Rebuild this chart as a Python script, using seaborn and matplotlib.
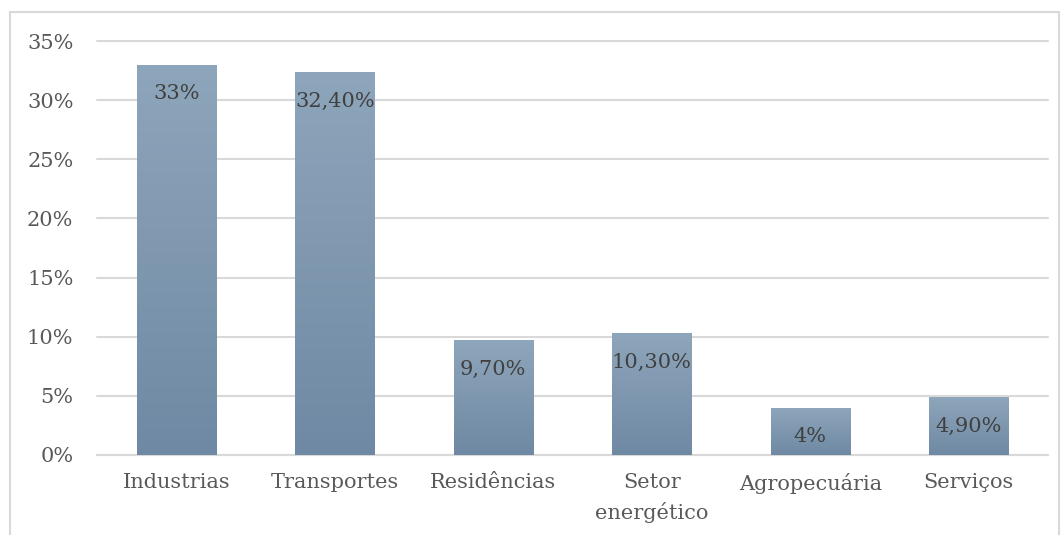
import numpy as np
import pandas as pd
import matplotlib
matplotlib.use("Agg")
import matplotlib.pyplot as plt
from matplotlib.patches import Rectangle
from matplotlib.colors import LinearSegmentedColormap
import seaborn as sns

# DATA
setores = ["Industrias", "Transportes", "Residências", "Setor\nenergético", "Agropecuária", "Serviços"]
valores = [33.0, 32.4, 9.7, 10.3, 4.0, 4.9]
rotulos = ["33%", "32,40%", "9,70%", "10,30%", "4%", "4,90%"]
yticks = [0, 5, 10, 15, 20, 25, 30, 35]
ytick_labels = ["0%", "5%", "10%", "15%", "20%", "25%", "30%", "35%"]

df = pd.DataFrame({"setor": setores, "valor": valores})

sns.set_style("white")
plt.rcParams["font.family"] = ["DejaVu Serif"]

fig = plt.figure(figsize=(10.62, 5.35), dpi=100)
ax = fig.add_axes([97 / 1062, 1 - 455 / 535, (1048 - 97) / 1062, (455 - 41) / 535])

sns.barplot(data=df, x="setor", y="valor", color="#7f97ae", width=0.5, ax=ax, zorder=3)

# gradient fill clipped to each bar
cmap = LinearSegmentedColormap.from_list("grad", ["#6f89a4", "#8ea6bb"])
grad = np.linspace(0, 1, 256).reshape(-1, 1)
for bar in ax.patches:
    x0, w, h = bar.get_x(), bar.get_width(), bar.get_height()
    bar.set_edgecolor("#c9d3dc")
    bar.set_linewidth(0.6)
    im = ax.imshow(grad, cmap=cmap, aspect="auto", origin="lower",
                   extent=[x0, x0 + w, 0, h], zorder=3.5)
    im.set_clip_path(bar)

for i, (v, t) in enumerate(zip(valores, rotulos)):
    ax.annotate(t, (i, v), xytext=(0, -21), textcoords="offset points",
                ha="center", va="center", fontsize=15, color="#404040", zorder=5)

ax.set_xlim(-0.5, len(setores) - 0.5)
ax.set_ylim(0, 35)
ax.set_yticks(yticks)
ax.set_yticklabels(ytick_labels)
ax.set_xlabel("")
ax.set_ylabel("")
ax.grid(axis="y", color="#d9d9d9", linewidth=1.5, zorder=0)
ax.set_axisbelow(True)
for line in ax.get_ygridlines():
    line.set_clip_on(False)
for s in ["top", "right", "left"]:
    ax.spines[s].set_visible(False)
ax.spines["bottom"].set_color("#d9d9d9")
ax.spines["bottom"].set_linewidth(1.5)
ax.tick_params(axis="x", length=0, pad=13, labelsize=15, labelcolor="#595959")
ax.tick_params(axis="y", length=0, pad=17, labelsize=15, labelcolor="#595959")
for lbl in ax.get_xticklabels():
    lbl.set_linespacing(1.6)

# outer chart frame
fig.patches.append(Rectangle((10 / 1062, -0.05), (1059 - 10) / 1062, 1 - 12 / 535 + 0.05,
                             transform=fig.transFigure, fill=False,
                             edgecolor="#d9d9d9", linewidth=1.5))

fig.savefig("out.png", dpi=100)
